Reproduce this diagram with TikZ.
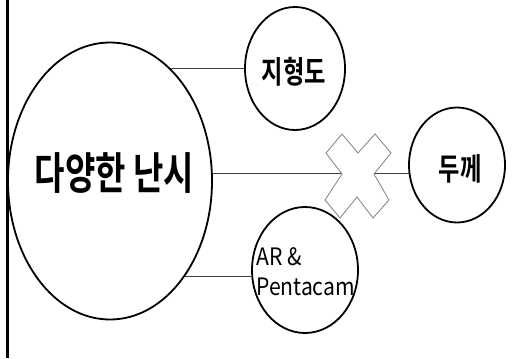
\documentclass[tikz,border=0pt]{standalone}
\usepackage{fontspec}
\usetikzlibrary{shapes.geometric,backgrounds}
\newfontfamily\krbold[FakeStretch=0.75]{Noto Sans CJK KR Bold}
\newfontfamily\krreg[FakeStretch=0.88]{Noto Sans CJK KR}
\tikzset{
  bubble/.style={ellipse, draw=black, line width=1.8pt, fill=white, inner sep=0pt},
  conn/.style={draw=black!75, line width=0.9pt},
  lbl/.style={inner sep=0pt, text=black},
}
\begin{document}
\begin{tikzpicture}[x=1pt,y=-1pt]
\useasboundingbox (0,0) rectangle (526,358);
\draw[line width=2.4pt] (7.5,0) -- (7.5,358);
% bubbles
\node[bubble, minimum width=204pt, minimum height=277pt] (big) at (110,181) {};
\node[bubble, minimum width=100pt, minimum height=123pt] (jh) at (295,68.5) {};
\node[bubble, minimum width=96pt, minimum height=115pt] (dk) at (457,165) {};
\node[bubble, minimum width=106pt, minimum height=126pt] (ar) at (305,270) {};
% labels
\node[lbl] (tbig) at (114.5,173) {\krbold\fontsize{44}{44}\selectfont 다양한 난시};
\node[lbl] (tjh) at (294,71.5) {\krbold\fontsize{31}{31}\selectfont 지형도};
\node[lbl] (tdk) at (460,169) {\krbold\fontsize{31}{31}\selectfont 두께};
\node[lbl, anchor=west, align=left, font=\krreg\fontsize{24}{30}\selectfont] (tar) at (256,272) {AR \&\\Pentacam};
% connectors
\begin{pgfonlayer}{background}
\draw[conn] (jh.west) -- (jh.west -| big.center);
\draw[conn] (dk.190) -- (dk.190 -| big.center);
\draw[conn] (ar.187) -- (ar.187 -| big.center);
\end{pgfonlayer}
% cross mark
\draw[draw=black!50, line width=0.8pt, fill=white, line join=miter]
  (342,134) -- (358,153) -- (375,134) -- (391,153) -- (374,174) -- (389,200)
  -- (373,218) -- (357,197) -- (340,218) -- (325,200) -- (342,174) -- (326,153) -- cycle;
\end{tikzpicture}
\end{document}
